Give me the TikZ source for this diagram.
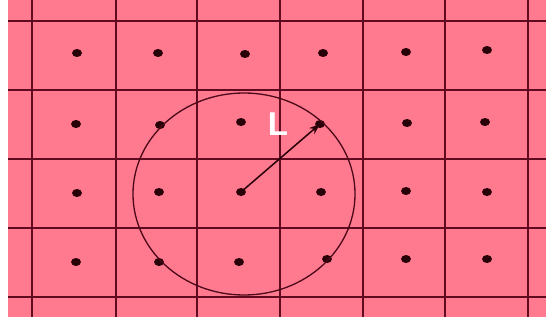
\documentclass[tikz,border=0pt]{standalone}
\usepackage{fontspec}
\setmainfont{Liberation Sans}
\usetikzlibrary{shapes.geometric,arrows.meta}
\definecolor{bgpink}{RGB}{255,122,142}
\definecolor{gridline}{RGB}{95,10,30}
\definecolor{dotcol}{RGB}{40,0,8}
\begin{document}
\begin{tikzpicture}[x=1pt,y=-1pt,
  gridln/.style={draw=gridline,line width=1.6pt},
  dotnode/.style={ellipse,fill=dotcol,minimum width=10pt,minimum height=8pt,inner sep=0pt},
  ring/.style={draw=gridline!80!black,line width=1.3pt}]
\useasboundingbox (0,0) rectangle (546,321);
\fill[white] (0,0) rectangle (546,321);
\fill[bgpink] (8,0) rectangle (546,317);
% grid
\foreach \x in {32,116,197,280,363,445,528}
  \draw[gridln] (\x,0) -- (\x,317);
\foreach \y in {21,90,159,228,297}
  \draw[gridln] (8,\y) -- (546,\y);
% dots
\foreach \n/\x/\y in {
  a1/77/53, a2/158/53, a3/245/54, a4/323/53, a5/406/52, a6/487/50,
  b1/76/124, b2/160/125, b3/241/122, b4/320/124, b5/407/123, b6/485/122,
  c1/77/193, c2/159/192, c3/241/192, c4/321/192, c5/406/191, c6/487/192,
  d1/76/262, d2/159/262, d3/239/262, d4/327/259, d5/406/259, d6/487/259}
  \node[dotnode] (\n) at (\x,\y) {};
% circle
\node[ring,ellipse,minimum width=222pt,minimum height=202pt,inner sep=0pt] (circ) at (244,194) {};
% radius arrow
\draw[dotcol,line width=1.5pt,-{Stealth[length=11pt,width=8pt]}] (c3.center) -- (b4.center);
\node[text=white,font=\bfseries\fontsize{33}{33}\selectfont,inner sep=0pt] (lab) at (278,124) {L};
\end{tikzpicture}
\end{document}
